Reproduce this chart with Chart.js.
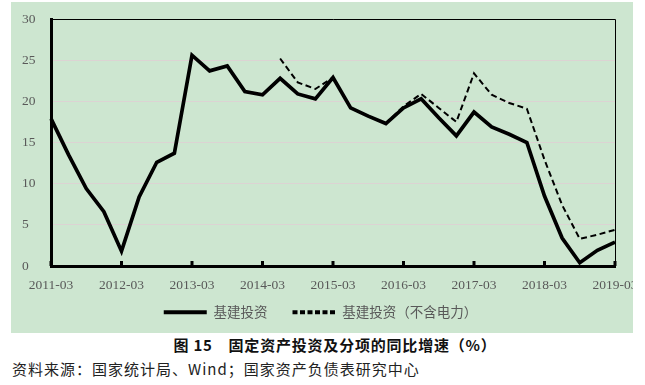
<!DOCTYPE html>
<html><head><meta charset="utf-8">
<script src="https://cdn.jsdelivr.net/npm/chart.js@4"></script>
<style>
html,body{margin:0;padding:0;background:#fff;width:645px;height:385px;overflow:hidden;}
#wrap{position:absolute;left:11px;top:2px;width:622px;height:331px;background:#CDE6D0;}
#wrap canvas{display:block;}
#title{position:absolute;left:5px;width:660px;top:335px;text-align:center;font:bold 15px "Noto Sans CJK SC";color:#111;letter-spacing:0.8px;line-height:20px;white-space:pre;}
#src{position:absolute;left:12px;top:359px;font:15px "Noto Sans CJK SC";color:#222;letter-spacing:1px;line-height:20px;white-space:pre;}
</style></head>
<body>
<div id="wrap"><canvas id="c" width="622" height="331"></canvas></div>
<div id="title">图 15　固定资产投资及分项的同比增速（%）</div>
<div id="src">资料来源：国家统计局、Wind；国家资产负债表研究中心</div>
<script>
const categories = ["2011-03","2011-06","2011-09","2011-12","2012-03","2012-06","2012-09","2012-12",
"2013-03","2013-06","2013-09","2013-12","2014-03","2014-06","2014-09","2014-12",
"2015-03","2015-06","2015-09","2015-12","2016-03","2016-06","2016-09","2016-12",
"2017-03","2017-06","2017-09","2017-12","2018-03","2018-06","2018-09","2018-12","2019-03"];
const seriesNames = ["基建投资","基建投资（不含电力）"];
const infra = [17.9,13.5,9.4,6.6, 1.8,8.4,12.6,13.7, 25.6,23.7,24.3,21.2, 20.8,22.8,20.9,20.3,
22.9,19.2,18.2,17.3, 19.2,20.3,18.0,15.8, 18.7,16.9,16.0,15.0, 8.5,3.4,0.4,1.9, 2.9];
const infraExPower = [null,null,null,null, null,null,null,null, null,null,null,null, null,25.2,22.3,21.5,
22.9,19.2,18.2,17.3, 19.4,20.9,19.2,17.5, 23.4,20.8,19.8,19.1, 12.9,7.4,3.3,3.8, 4.4];
const yTicks = [0,5,10,15,20,25,30];
const xLabelEvery = 4;

const framePlugin = {
  id:'frame',
  afterLayout(chart){
    // let x tick labels extend below the (short) axis box without being clipped
    const x = chart.scales.x;
    x.bottom = x.top + 34;
    // centre the legend on the full canvas width rather than the padded area
    if (chart.legend) { chart.legend.left -= 7; chart.legend.right -= 7; }
  },
  afterDatasetsDraw(chart){
    const {ctx, chartArea:a, scales:{x}} = chart;
    ctx.save();
    ctx.strokeStyle='#000'; ctx.lineWidth=1;
    ctx.beginPath();
    ctx.moveTo(a.left, a.top+0.5); ctx.lineTo(a.right+0.5, a.top+0.5); ctx.lineTo(a.right+0.5, a.bottom);
    ctx.stroke();
    ctx.fillStyle='#000';
    categories.forEach((c,i)=>{
      if(i%xLabelEvery===0){
        const px = x.getPixelForValue(i);
        ctx.fillRect(px-1.5, a.bottom-5, 3, 5);
      }
    });
    ctx.restore();
  }
};

new Chart(document.getElementById('c'), {
  type:'line',
  data:{
    labels:categories,
    datasets:[
      {label:seriesNames[0], data:infra, borderColor:'#000', backgroundColor:'#000', borderWidth:3.7, pointRadius:0, tension:0, order:1},
      {label:seriesNames[1], data:infraExPower, borderColor:'#000', backgroundColor:'#000', borderWidth:2, borderDash:[6,3.5], pointRadius:0, tension:0, spanGaps:false, order:2}
    ]
  },
  options:{
    responsive:false, animation:false,
    layout:{padding:{top:17,right:0,left:11,bottom:4}},
    plugins:{
      legend:{position:'bottom', align:'center',
        labels:{usePointStyle:true, pointStyle:'line', pointStyleWidth:43, boxHeight:13, padding:25,
          color:'#595959', font:{family:'"Noto Sans CJK SC"', size:13.5},
          generateLabels:(chart)=>{
            const items = Chart.defaults.plugins.legend.labels.generateLabels(chart);
            items.forEach((it,i)=>{ it.lineWidth = 4; it.lineDash = i===1 ? [5,2.5] : []; it.pointStyle='line'; it.fontColor='#595959'; });
            return items;
          }}},
      tooltip:{enabled:false}
    },
    scales:{
      x:{type:'category', offset:false,
        grid:{display:false, drawTicks:false},
        border:{display:true, color:'#000', width:3},
        ticks:{autoSkip:false, maxRotation:0, padding:11, color:'#595959',
          font:{family:'"Liberation Serif"', size:13.5},
          callback:(v,i)=> i%xLabelEvery===0 ? categories[i] : ''},
        afterFit:(s)=>{s.height=14.5; s.paddingLeft=0; s.paddingRight=0;}
      },
      y:{min:0,max:30,
        afterBuildTicks:(s)=>{s.ticks = yTicks.map(v=>({value:v}));},
        grid:{color:'#dcd3d3', lineWidth:1, drawTicks:false},
        border:{display:true, color:'#000', width:3},
        ticks:{padding:4, crossAlign:'far', color:'#595959', font:{family:'"Liberation Serif"', size:13.5}},
        afterFit:(s)=>{s.width=29;}
      },
      yRight:{position:'right', min:0, max:30, display:true,
        grid:{display:false, drawTicks:false}, border:{display:false},
        ticks:{display:false},
        afterFit:(s)=>{s.width=18;}
      }
    }
  },
  plugins:[framePlugin]
});
</script>
</body></html>
